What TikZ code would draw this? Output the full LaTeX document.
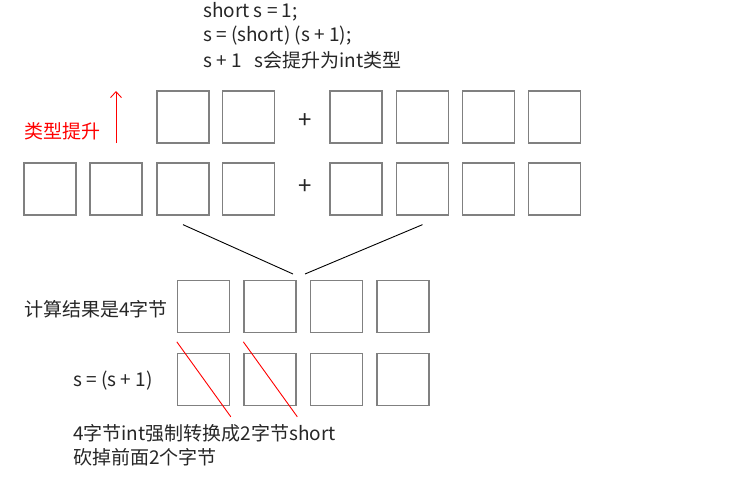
\documentclass[tikz,border=0pt]{standalone}
\usepackage{fontspec}
\usetikzlibrary{arrows.meta}
\setmainfont{Noto Sans CJK SC}
\begin{document}
\begin{tikzpicture}[x=1pt, y=-1pt,
  byte/.style={draw=black!50, line width=1.3pt, minimum size=52pt, inner sep=0pt},
  txt/.style={font=\fontsize{19}{22}\selectfont, text=black!85, inner sep=0pt, anchor=west},
  cut/.style={red, line width=0.9pt}]
  \useasboundingbox (0, 0) rectangle (740, 493);

  % code lines
  \node[txt] (l1) at (203, 12) {short s = 1;};
  \node[txt] (l2) at (203, 36) {s = (short) (s + 1);};
  \node[txt] (l3) at (203, 60) {s + 1 \ \ s会提升为int类型};

  % promotion
  \node[txt, text=red] (up) at (24, 131) {类型提升};
  \coordinate (upA) at (116, 143);
  \coordinate (upB) at (116, 91);
  \draw[red, line width=0.9pt, -{Straight Barb[length=6pt, width=11pt]}] (upA) -- (upB);

  % short + int
  \node[byte] (a1) at (183, 117) {};
  \node[byte] (a2) at (248.5, 117) {};
  \node[txt, anchor=center, font=\fontsize{24}{24}\selectfont] (p1) at (305, 121) {+};
  \foreach \i/\x in {1/356, 2/422.5, 3/488.5, 4/554.5}
    \node[byte] (b\i) at (\x, 117) {};

  % int + int
  \foreach \i/\x in {1/50, 2/116, 3/183, 4/248.5}
    \node[byte] (c\i) at (\x, 189) {};
  \node[txt, anchor=center, font=\fontsize{24}{24}\selectfont] (p2) at (305, 187) {+};
  \foreach \i/\x in {1/356, 2/422.5, 3/488.5, 4/554.5}
    \node[byte] (d\i) at (\x, 189) {};

  % result
  \node[txt] (res) at (24, 309) {计算结果是4字节};
  \foreach \i/\x in {1/203.5, 2/270, 3/336.5, 4/403}
    \node[byte] (e\i) at (\x, 306.5) {};
  \coordinate (mL) at (293, 274);
  \coordinate (mR) at (305, 274);
  \draw[line width=0.9pt] ([yshift=-9pt]c3.south) -- (mL);
  \draw[line width=0.9pt] ([yshift=-9pt]d2.south) -- (mR);

  % cast back to short
  \node[txt] (cast) at (73, 381) {s = (s + 1)};
  \foreach \i/\x in {1/203.5, 2/270, 3/336.5, 4/403}
    \node[byte] (f\i) at (\x, 379.5) {};
  \draw[cut] ([yshift=11pt]f1.north west) -- ++(54, 75);
  \draw[cut] ([yshift=11pt]f2.north west) -- ++(54, 75);

  \node[txt] (n1) at (73, 433) {4字节int强制转换成2字节short};
  \node[txt] (n2) at (73, 457) {砍掉前面2个字节};
\end{tikzpicture}
\end{document}
